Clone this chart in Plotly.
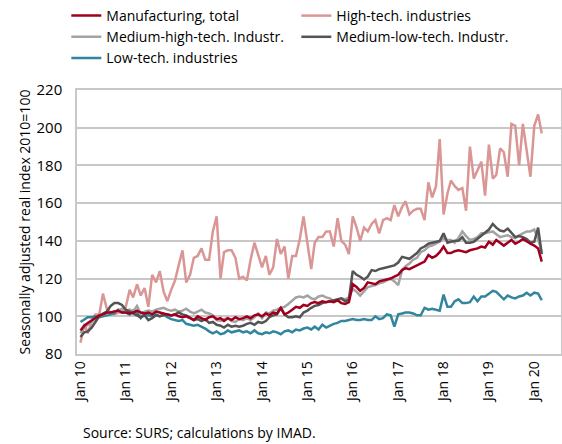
import pandas as pd
import plotly.graph_objects as go

months = pd.date_range("2010-01-01", "2020-03-01", freq="MS")

manufacturing_total = [
    92.5, 95, 96.5, 98, 99, 100.5, 101, 102, 102, 102.5, 103, 102,
    102, 101.5, 102, 103, 102, 101.5, 102, 101, 102.5, 102, 101.5, 101,
    100.5, 101, 100, 99.5, 100, 99, 98, 100, 99, 98, 99.5, 100,
    98.5, 99, 97.5, 99, 98, 99.5, 98.5, 99, 100, 99, 100.5, 101,
    100, 101.5, 100.5, 102, 101.5, 104.5, 101, 102, 103.5, 105, 104.5, 106,
    105.5, 107, 107.5, 107, 108, 107.5, 108, 107.5, 108.5, 107, 106.5, 107.5,
    117, 115.5, 113.5, 115, 118, 117.5, 117, 118.5, 119, 119.5, 120, 121,
    122, 124.5, 125.5, 125, 126, 127, 128, 129, 132.5, 131, 132, 134,
    137, 133.5, 133.5, 134.5, 135, 134.5, 134, 135, 135.5, 136, 137, 136.5,
    139.5, 138, 140.5, 139, 137.5, 139, 140.5, 138.5, 139.5, 141, 139.5, 138.5,
    137.5, 136, 129,
]

high_tech = [
    86, 96, 91, 97, 101, 101, 112, 104, 102, 101, 102, 102,
    105, 114, 110, 117, 111, 115, 105, 122, 118, 124, 113, 108,
    114, 119, 127, 135, 118, 122, 131, 132, 136, 130, 130, 145,
    153, 120, 134, 135, 135, 131, 120, 121, 119, 130, 139, 132,
    126, 132, 122, 126, 141, 133, 137, 120, 132, 132, 141, 153,
    138, 125, 139, 142, 142, 145, 145, 137, 152, 140, 138, 133,
    153, 147, 140, 147, 145, 149, 151, 144, 151, 152, 151, 159,
    153, 158, 161, 154, 156, 157, 157, 151, 171, 163, 169, 194,
    154, 165, 172, 169, 167, 168, 156, 190, 173, 177, 182, 164,
    191, 173, 175, 189, 187, 174, 202, 201, 180, 202, 189, 174,
    201, 207, 197,
]

medium_high_tech = [
    91, 94, 95.5, 97, 99, 100, 101, 101.5, 102, 102.5, 103, 104,
    103, 103.5, 102.5, 105.5, 101.5, 102.5, 103, 102.5, 103.5, 104, 104.5, 103.5,
    103, 103.5, 102.5, 103, 104, 102.5, 101.5, 102.5, 103.5, 102, 101.5, 100.5,
    98, 97.5, 98.5, 99, 97.5, 97, 98.5, 98, 99, 98, 99.5, 101.5,
    99, 102, 101.5, 103, 103.5, 104.5, 105, 106.5, 108.5, 110, 110.5, 110,
    111, 109.5, 109, 110.5, 111, 110, 109.5, 108, 108.5, 109.5, 109, 110,
    114.5, 113, 111, 113.5, 115.5, 116, 116.5, 117.5, 118, 119, 120, 118.5,
    116.5, 124.5, 126.5, 128, 130, 131, 134, 135, 137, 137.5, 138.5, 139.5,
    141.5, 140.5, 140.5, 139, 141.5, 145, 142.5, 140.5, 141, 142, 144, 144,
    144.5, 145, 143.5, 142, 142.5, 143, 142, 141.5, 143, 144, 145, 145,
    146, 141, 134,
]

medium_low_tech = [
    89, 91.5, 92, 94, 97, 100, 101.5, 102.5, 105.5, 107, 107, 106,
    103.5, 102.5, 101.5, 100.5, 99.5, 100.5, 98, 99, 100.5, 100, 100.5, 101,
    100.5, 101, 102, 101, 100.5, 99, 98, 98.5, 97.5, 98.5, 96.5, 97,
    95.5, 95, 94, 95.5, 94.5, 95, 94.5, 95, 96, 96.5, 95.5, 97,
    96.5, 97.5, 99.5, 100.5, 101, 104.5, 101, 99.5, 99.5, 100, 99.5, 102,
    103, 104.5, 105.5, 106, 107, 107.5, 108, 108.5, 109, 109.5, 108, 109,
    124, 122, 121, 119.5, 121, 124.5, 124, 125, 125.5, 126, 126.5, 127,
    128.5, 131.5, 131, 130.5, 132, 133.5, 136, 137, 138.5, 139, 139.5, 140,
    144, 139, 139.5, 140, 140, 142, 139, 139, 139.5, 141, 143, 144,
    146, 149, 147, 145.5, 145, 146.5, 144, 142, 142.5, 142, 141, 139,
    139.5, 147, 133,
]

low_tech = [
    97, 98.5, 99.5, 99.5, 100, 99.5, 100, 100.5, 101, 101.5, 103.5, 102,
    102, 101, 103, 102, 99, 101.5, 100.5, 100, 101, 100, 101, 99.5,
    98.5, 98, 97.5, 98, 96, 95.5, 95, 95.5, 94.5, 93.5, 92, 91,
    92, 90.5, 91, 92.5, 91.5, 92, 92.5, 91.5, 92, 91, 92.5, 91,
    90.5, 91.5, 91, 92, 91.5, 90.5, 92, 92.5, 91.5, 93, 92.5, 93.5,
    94, 93, 94.5, 93, 95.5, 94, 95, 96, 96.5, 97.5, 97.5, 98,
    98.5, 98, 98, 98.5, 98, 98, 100, 98.5, 99, 101, 100.5, 94.5,
    101, 101.5, 102, 102, 101.5, 100.5, 100.5, 104.5, 103.5, 104, 103.5, 103,
    111.5, 105, 105, 108, 109, 107, 107, 107.5, 110.5, 108, 110.5, 110.5,
    112, 113.5, 113, 111, 109, 111, 110, 109.5, 110.5, 111, 112.5, 111,
    112.5, 112, 108.5,
]

series_names = [
    "Manufacturing, total",
    "High-tech. industries",
    "Medium-high-tech. Industr.",
    "Medium-low-tech. Industr.",
    "Low-tech. industries",
]
series_values = [manufacturing_total, high_tech, medium_high_tech, medium_low_tech, low_tech]
series_colors = ["#A0001E", "#DA9694", "#A3A3A3", "#545454", "#31859C"]

y_title = "Seasonally adjusted real index 2010=100"
source_text = "Source: SURS; calculations by IMAD."

FONT = "Open Sans"

fig = go.Figure()
# draw order: high-tech first so the others sit on top
order = [1, 4, 2, 3, 0]
for k in order:
    fig.add_trace(go.Scatter(
        x=months, y=series_values[k], name=series_names[k], mode="lines",
        line=dict(color=series_colors[k], width=2.5),
        legendrank=k + 1,
    ))

fig.update_layout(
    width=562, height=444,
    margin=dict(l=77, r=1, t=90, b=90, autoexpand=False),
    paper_bgcolor="white", plot_bgcolor="white",
    font=dict(family=FONT, size=14, color="#000000"),
    showlegend=True,
    legend=dict(
        orientation="h", xref="container", yref="container",
        x=0.118, y=1.0, xanchor="left", yanchor="top",
        entrywidth=185, entrywidthmode="pixels",
        font=dict(family=FONT, size=14, color="#000000"),
        bgcolor="rgba(0,0,0,0)", traceorder="normal",
        itemwidth=30,
    ),
    xaxis=dict(
        type="date",
        range=["2009-12-04", "2020-08-03"],
        tick0="2010-01-01", dtick="M12", tickformat="%b %y",
        tickangle=-90, showgrid=False,
        showline=True, linecolor="#C8C8C8", linewidth=1.5, mirror=True,
        ticks="", tickfont=dict(family=FONT, size=14),
    ),
    yaxis=dict(
        range=[80, 220], dtick=20, tick0=80,
        showgrid=True, gridcolor="#C8C8C8", gridwidth=1.5,
        showline=True, linecolor="#C8C8C8", linewidth=1.5, mirror=True,
        ticks="", ticklabelstandoff=10, zeroline=False,
        tickfont=dict(family=FONT, size=15),
        title=dict(text=y_title, font=dict(family=FONT, size=14), standoff=3),
    ),
)

fig.add_annotation(
    text=source_text, xref="paper", yref="paper", x=0.0, y=-0.2955,
    xanchor="left", yanchor="middle", showarrow=False, xshift=4,
    font=dict(family=FONT, size=14),
)

fig.write_html("out.html", config={"displayModeBar": False})

# remove the browser's default page margin so the figure sits at the window origin
with open("out.html", "r", encoding="utf-8") as fh:
    html = fh.read()
html = html.replace("<body>", '<body style="margin:0;padding:0;">', 1)
with open("out.html", "w", encoding="utf-8") as fh:
    fh.write(html)
